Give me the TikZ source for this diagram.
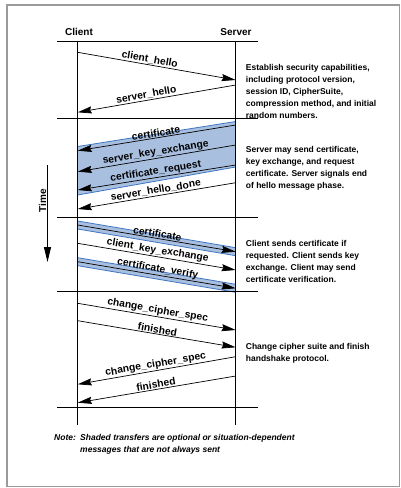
\documentclass[tikz,border=0pt]{standalone}
\usepackage{fontspec}
\setmainfont{Liberation Sans}
\usetikzlibrary{arrows.meta}
\definecolor{bandfill}{HTML}{A9BFDF}
\definecolor{bandedge}{HTML}{3F76C4}
\definecolor{framegray}{HTML}{9A9A9A}
\begin{document}
\begin{tikzpicture}[x=1pt,y=-1pt,
  msg/.style={line width=0.7pt, -{Stealth[length=14pt,width=7pt,inset=1.5pt]}},
  lbl/.style={sloped, above, inner sep=0.8pt, font=\fontsize{10.3}{12}\selectfont\bfseries},
  sepline/.style={line width=1.4pt},
  life/.style={line width=0.9pt},
  desc/.style={anchor=north west, align=left, inner sep=0pt, font=\fontsize{8.5}{12}\selectfont\bfseries},
  head/.style={font=\fontsize{10}{12}\selectfont\bfseries, inner sep=0pt},
  band/.style={fill=bandfill},
  bandline/.style={draw=bandedge, line width=0.8pt}]
\useasboundingbox (0,0) rectangle (401,488);
\draw[framegray, line width=1.5pt] (7,5) rectangle (399.5,486.5);

% headers
\node[head] (client) at (79,32) {Client};
\node[head] (server) at (236,32) {Server};

% shaded bands
\fill[band] (235.7,121.5) -- (77.7,146.5) -- (77.7,195) -- (235.7,167) -- cycle;
\draw[bandline] (235.7,121.5) -- (77.7,146.5);
\draw[bandline] (235.7,167) -- (77.7,195);
\fill[band] (77.7,221) -- (235.7,247.7) -- (235.7,255.7) -- (77.7,229) -- cycle;
\draw[bandline] (77.7,221) -- (235.7,247.7);
\draw[bandline] (77.7,229) -- (235.7,255.7);
\fill[band] (77.7,257.7) -- (235.7,284.3) -- (235.7,292.3) -- (77.7,265.7) -- cycle;
\draw[bandline] (77.7,257.7) -- (235.7,284.3);
\draw[bandline] (77.7,265.7) -- (235.7,292.3);

% lifelines
\coordinate (ctop) at (77.7,41.7);
\coordinate (cbot) at (77.7,425);
\coordinate (stop) at (235.7,41.7);
\coordinate (sbot) at (235.7,425);
\draw[life] (ctop) -- (cbot);
\draw[life] (stop) -- (sbot);

% separators
\foreach \yy/\nm in {41.7/a,118.3/b,217.3/c,291.7/d,407.3/e}{
  \coordinate (L\nm) at (57,\yy);
  \coordinate (R\nm) at (258,\yy);
  \draw[sepline] (L\nm) -- (R\nm);
}

% phase 1
\coordinate (m1a) at (77.7,52.3);  \coordinate (m1b) at (235.7,80);
\coordinate (m2a) at (235.7,85);   \coordinate (m2b) at (77.7,112.3);
\draw[msg] (m1a) -- node[lbl,pos=.45] {client\_hello} (m1b);
\draw[msg] (m2a) -- node[lbl,pos=.56] {server\_hello} (m2b);

% phase 2
\coordinate (m3a) at (235.7,125);   \coordinate (m3b) at (77.7,150.7);
\coordinate (m4a) at (235.7,145);   \coordinate (m4b) at (77.7,171.7);
\coordinate (m5a) at (235.7,165);   \coordinate (m5b) at (77.7,190);
\coordinate (m6a) at (235.7,182.7); \coordinate (m6b) at (77.7,209);
\draw[msg] (m3a) -- node[lbl] {certificate} (m3b);
\draw[msg] (m4a) -- node[lbl] {server\_key\_exchange} (m4b);
\draw[msg] (m5a) -- node[lbl] {certificate\_request} (m5b);
\draw[msg] (m6a) -- node[lbl] {server\_hello\_done} (m6b);

% phase 3
\coordinate (m7a) at (77.7,225);   \coordinate (m7b) at (235.7,251.7);
\coordinate (m8a) at (77.7,243.3); \coordinate (m8b) at (235.7,270);
\coordinate (m9a) at (77.7,261.7); \coordinate (m9b) at (235.7,288.3);
\draw[msg] (m7a) -- node[lbl] {certificate} (m7b);
\draw[msg] (m8a) -- node[lbl] {client\_key\_exchange} (m8b);
\draw[msg] (m9a) -- node[lbl] {certificate\_verify} (m9b);

% phase 4
\coordinate (m10a) at (77.7,303.3); \coordinate (m10b) at (235.7,330);
\coordinate (m11a) at (77.7,320.7); \coordinate (m11b) at (235.7,347.3);
\coordinate (m12a) at (235.7,356.7); \coordinate (m12b) at (77.7,384.3);
\coordinate (m13a) at (235.7,376);  \coordinate (m13b) at (77.7,402.7);
\draw[msg] (m10a) -- node[lbl] {change\_cipher\_spec} (m10b);
\draw[msg] (m11a) -- node[lbl] {finished} (m11b);
\draw[msg] (m12a) -- node[lbl] {change\_cipher\_spec} (m12b);
\draw[msg] (m13a) -- node[lbl] {finished} (m13b);

% time arrow
\coordinate (ttop) at (47.5,165);
\coordinate (tbot) at (47.5,262);
\draw[line width=0.9pt, -{Triangle[length=15pt,width=7pt]}] (ttop) -- (tbot);
\node[head, rotate=90] (time) at (42.5,201) {Time};

% descriptions
\node[desc] (d1) at (245.7,64) {Establish security capabilities,\\including protocol version,\\session ID, CipherSuite,\\compression method, and initial\\random numbers.};
\node[desc] (d2) at (245.7,146) {Server may send certificate,\\key exchange, and request\\certificate. Server signals end\\of hello message phase.};
\node[desc] (d3) at (245.7,240) {Client sends certificate if\\requested. Client sends key\\exchange. Client may send\\certificate verification.};
\node[desc] (d4) at (245.7,343.5) {Change cipher suite and finish\\handshake protocol.};

% note
\node[anchor=north west, inner sep=0pt, font=\fontsize{8.5}{12}\selectfont\bfseries\itshape] (note) at (54,431.4)
  {\begin{tabular}{@{}l@{\hspace{4.3pt}}l@{}}Note: & Shaded transfers are optional or situation-dependent\\ & messages that are not always sent\end{tabular}};
\end{tikzpicture}
\end{document}
